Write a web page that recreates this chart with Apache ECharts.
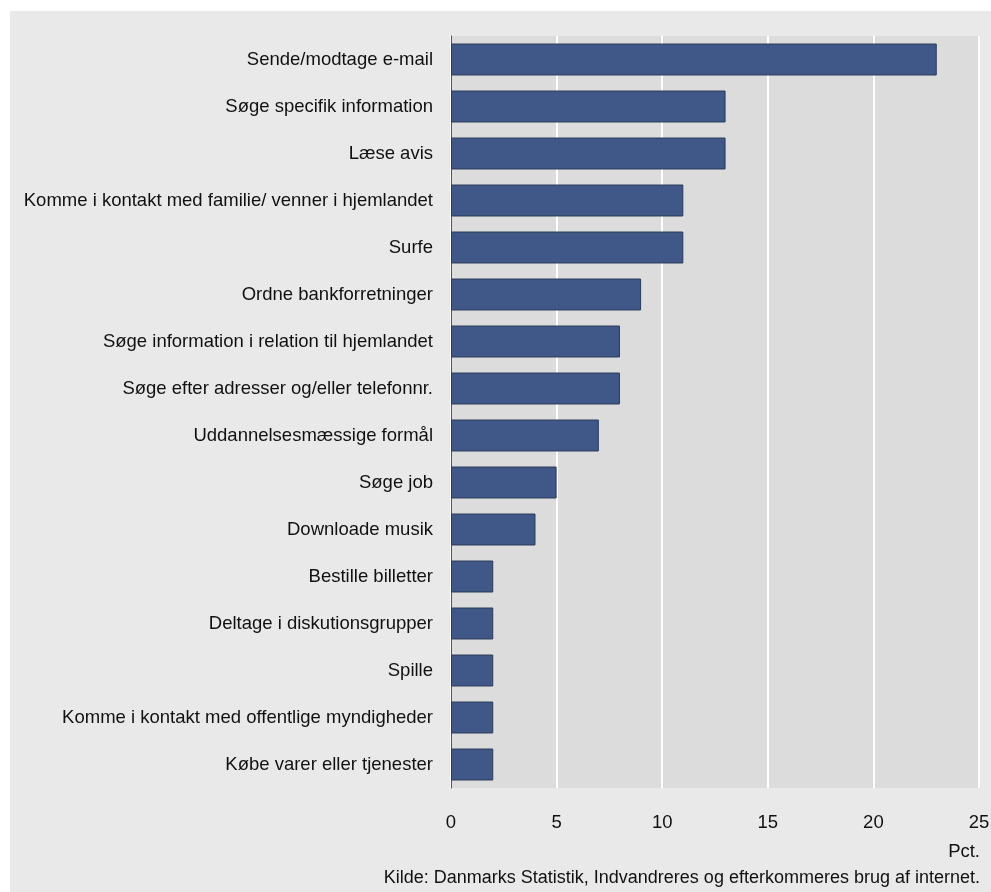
<!DOCTYPE html>
<html>
<head>
<meta charset="utf-8">
<script src="https://cdn.jsdelivr.net/npm/echarts@6/dist/echarts.min.js"></script>
<style>
  html, body { margin: 0; padding: 0; background: #ffffff; }
  #wrap { position: relative; width: 991px; height: 892px; background: #ffffff; }
  #bg { position: absolute; left: 10px; top: 11px; width: 981px; height: 881px; background: #e9e9e9; }
  #chart { position: absolute; left: 0; top: 0; width: 991px; height: 892px; }
</style>
</head>
<body>
<div id="wrap"><div id="bg"></div><div id="chart"></div></div>
<script>
const categories = [
  "Sende/modtage e-mail",
  "Søge specifik information",
  "Læse avis",
  "Komme i kontakt med familie/ venner i hjemlandet",
  "Surfe",
  "Ordne bankforretninger",
  "Søge information i relation til hjemlandet",
  "Søge efter adresser og/eller telefonnr.",
  "Uddannelsesmæssige formål",
  "Søge job",
  "Downloade musik",
  "Bestille billetter",
  "Deltage i diskutionsgrupper",
  "Spille",
  "Komme i kontakt med offentlige myndigheder",
  "Købe varer eller tjenester"
];
const values = [23, 13, 13, 11, 11, 9, 8, 8, 7, 5, 4, 2, 2, 2, 2, 2];
const xTicks = { min: 0, max: 25, interval: 5 };
const unitLabel = "Pct.";
const sourceLabel = "Kilde: Danmarks Statistik, Indvandreres og efterkommeres brug af internet.";

const FONT = "'Liberation Sans', Arial, sans-serif";
const FS = 18.5;

const chart = echarts.init(document.getElementById('chart'), null, { renderer: 'canvas' });
chart.setOption({
  backgroundColor: 'transparent',
  animation: false,
  grid: {
    left: 451, right: 12, top: 36, bottom: 104,
    outerBoundsMode: 'none',
    containLabel: false,
    show: true, backgroundColor: '#dcdcdc', borderWidth: 0
  },
  xAxis: {
    type: 'value',
    min: xTicks.min, max: xTicks.max, interval: xTicks.interval,
    axisLine: { show: false },
    axisTick: { show: false },
    splitLine: { show: true, lineStyle: { color: '#ffffff', width: 2 } },
    axisLabel: { fontFamily: FONT, fontSize: FS, color: '#111111', margin: 25 }
  },
  yAxis: {
    type: 'category',
    data: categories,
    inverse: true,
    axisLine: { show: true, lineStyle: { color: '#555555', width: 1 } },
    axisTick: { show: false },
    axisLabel: { fontFamily: FONT, fontSize: FS, color: '#111111', margin: 18 }
  },
  series: [{
    type: 'bar',
    data: values,
    barWidth: '68%',
    itemStyle: { color: '#405887', borderColor: '#2a3b5c', borderWidth: 1 }
  }],
  graphic: [
    { type: 'text', right: 11, top: 842, style: { text: unitLabel, font: FS + 'px ' + FONT, fill: '#111111' } },
    { type: 'text', right: 11, top: 869, style: { text: sourceLabel, font: '18px ' + FONT, fill: '#111111' } }
  ]
});
</script>
</body>
</html>
